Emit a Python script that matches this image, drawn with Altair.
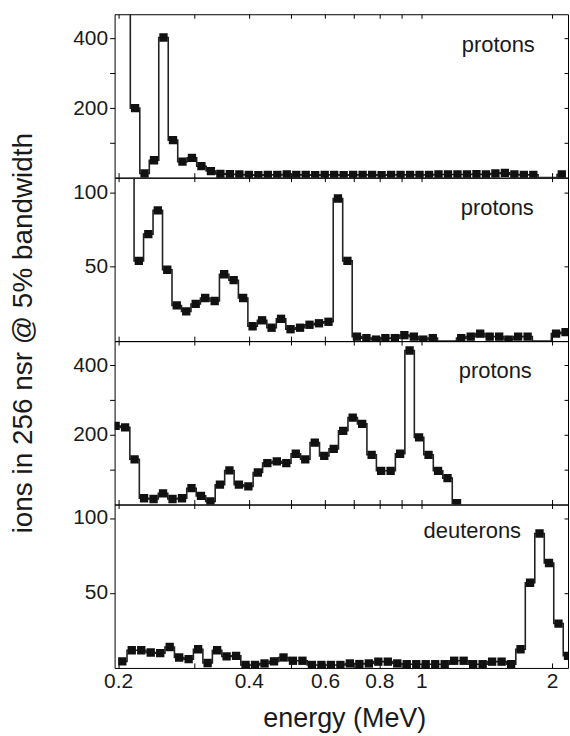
import altair as alt
import pandas as pd

# ---- data ----
# bins are 5%-bandwidth channels: each panel starts at E0 and steps by ratio R
R = 1.0516
E0_P1 = 0.2081
E0_P2 = 0.2123
E0_P3 = 0.1974
E0_P4 = 0.2045

P1_COUNTS = [700, 200, 12, 50, 403, 108, 46, 57, 33, 19, 11, 10, 9, 8, 7, 8, 8, 9, 8, 8,
             7, 8, 8, 7, 8, 8, 8, 7, 8, 8, 8, 8, 8, 9, 9, 9, 9, 10, 9, 12,
             14, 9, 8, 8, 0, 0, 9]
P2_COUNTS = [200, 54, 72, 88, 48, 24, 20, 25, 29, 27, 45, 41, 29, 10, 14, 9, 15, 8, 9, 11,
             12, 13, 96, 54, 3, 2, 1, 2, 2, 4, 3, 1, 2, 0, 0, 2, 3, 5, 3, 3,
             1, 3, 3, 0, 0, 5, 6]
P3_COUNTS = [226, 222, 130, 18, 16, 32, 16, 18, 47, 25, 9, 57, 98, 57, 52, 92, 119, 124, 119, 146,
             130, 178, 140, 160, 212, 250, 232, 143, 97, 97, 146, 443, 193, 143, 97, 76, 4]
P4_COUNTS = [4.4, 11.8, 11.8, 10.3, 9.9, 14, 7, 5.9, 12.5, 3.3, 11.8, 7.7, 8.1, 2, 2, 3, 4.4, 7, 4.8, 4.8,
             2, 2, 2, 2, 3, 2.6, 3, 4.2, 4.2, 3, 2.5, 2.5, 2.5, 2.5, 2.5, 4.8, 4.8, 2.5, 2.5, 4.2,
             4.2, 2.5, 12.5, 56.8, 89.7, 70, 29.6, 8.1]

PANEL_LABELS = ["protons", "protons", "protons", "deuterons"]
Y_MAX = [470, 110, 470, 109]
Y_TICKS_BIG = [100, 200, 300, 400]
Y_TICKS_SMALL = [50, 100]
X_TICKS = [0.2, 0.3, 0.4, 0.5, 0.6, 0.7, 0.8, 0.9, 1, 2]
X_LABELED = "[0.2, 0.4, 0.6, 0.8, 1, 2]"
X_DOMAIN = [0.19633, 2.1764]

X_TITLE = "energy (MeV)"
Y_TITLE = "ions in 256 nsr @ 5% bandwidth"

FONT = "Liberation Sans"
W, H = 455, 164
PAD_L, PAD_T, PAD_R, PAD_B = 114, 12, 1, 68


def energies(e0, n):
    return [e0 * R ** k for k in range(n)]


def frame_guard(top):
    # invisible rule that fixes the outer bounds of the whole figure
    if top:
        enc = dict(x=alt.value(-PAD_L), x2=alt.value(W + PAD_R), y=alt.value(-PAD_T), y2=alt.value(0))
    else:
        enc = dict(x=alt.value(-PAD_L), x2=alt.value(W + PAD_R), y=alt.value(H), y2=alt.value(H + PAD_B))
    return alt.Chart(pd.DataFrame({"a": [0]})).mark_rule(opacity=0, strokeWidth=0.01).encode(**enc)


def panel(e0, counts, ymax, yticks, label, lx, ly, bottom=False, extra=()):
    df = pd.DataFrame({"E": energies(e0, len(counts)), "N": counts})
    xs = alt.Scale(type="log", domain=X_DOMAIN, nice=False)
    ys = alt.Scale(domain=[0, ymax], nice=False, zero=False)
    common = dict(domain=False, grid=False, title=None, tickColor="black", tickWidth=1,
                  minExtent=0)

    if bottom:
        bax = alt.Axis(orient="bottom", values=X_TICKS, format="~g",
                       labelExpr=f"indexof({X_LABELED}, datum.value) >= 0 ? datum.label : ''",
                       offset=-5, tickSize=5,
                       labelPadding=20, labelBaseline="alphabetic", labelFontSize=21,
                       labelColor="#1a1a1a", labelFont=FONT, labelOverlap=False, labelFlush=False,
                       **common)
    else:
        bax = alt.Axis(orient="bottom", values=X_TICKS, labels=False, offset=-5, tickSize=5, **common)
    tax = alt.Axis(orient="top", values=X_TICKS, labels=False, offset=-4, tickSize=4, **common)
    lax = alt.Axis(orient="left", values=yticks, format="d",
                   labelExpr="(datum.value == 200 || datum.value == 400 || datum.value == 50 || datum.value == 100 && " + str(ymax) + " < 200) ? datum.label : ''",
                   tickSize=5, labelPadding=2,
                   labelFontSize=21, labelFont=FONT, labelColor="#1a1a1a",
                   labelOverlap=False, **common)
    rax = alt.Axis(orient="right", values=yticks, labels=False, offset=-4, tickSize=4, **common)

    base = alt.Chart(df)
    line = base.mark_line(interpolate="step", color="#222222", strokeWidth=1.6, clip=True).encode(
        x=alt.X("E:Q", scale=xs, axis=bax),
        y=alt.Y("N:Q", scale=ys, axis=lax),
    )
    pts = base.transform_filter("datum.N > 0").mark_point(
        shape="square", filled=True, size=70, color="#111111", opacity=1, clip=True
    ).encode(
        x=alt.X("E:Q", scale=xs, axis=tax),
        y=alt.Y("N:Q", scale=ys, axis=rax),
    )
    txt = alt.Chart(pd.DataFrame({"t": [label]})).mark_text(
        font=FONT, fontSize=22, color="#1a1a1a", align="center", baseline="alphabetic"
    ).encode(x=alt.value(lx), y=alt.value(ly), text="t:N")
    layers = [line, pts, txt] + list(extra)
    return alt.layer(*layers).resolve_axis(x="independent", y="independent").properties(width=W, height=H)


ytitle = alt.Chart(pd.DataFrame({"t": [Y_TITLE]})).mark_text(
    font=FONT, fontSize=28, color="#1a1a1a", align="center", baseline="middle", angle=270
).encode(x=alt.value(-91), y=alt.value(320), text="t:N")

xtitle = alt.Chart(pd.DataFrame({"t": [X_TITLE]})).mark_text(
    font=FONT, fontSize=27, color="#1a1a1a", align="center", baseline="alphabetic"
).encode(x=alt.value(231), y=alt.value(223), text="t:N")

p1 = panel(E0_P1, P1_COUNTS, Y_MAX[0], Y_TICKS_BIG, PANEL_LABELS[0], 385, 38,
           extra=[ytitle, frame_guard(True)])
p2 = panel(E0_P2, P2_COUNTS, Y_MAX[1], Y_TICKS_SMALL, PANEL_LABELS[1], 384, 37)
p3 = panel(E0_P3, P3_COUNTS, Y_MAX[2], Y_TICKS_BIG, PANEL_LABELS[2], 382, 37)
p4 = panel(E0_P4, P4_COUNTS, Y_MAX[3], Y_TICKS_SMALL, PANEL_LABELS[3], 359, 34, bottom=True,
           extra=[xtitle, frame_guard(False)])

chart = alt.vconcat(p1, p2, p3, p4, spacing=0, bounds="flush").properties(
    padding=0,
    background="white",
).configure(font=FONT).configure_view(stroke="black", strokeWidth=1)

chart.save("out.html", embed_options={"renderer": "svg", "actions": False})
